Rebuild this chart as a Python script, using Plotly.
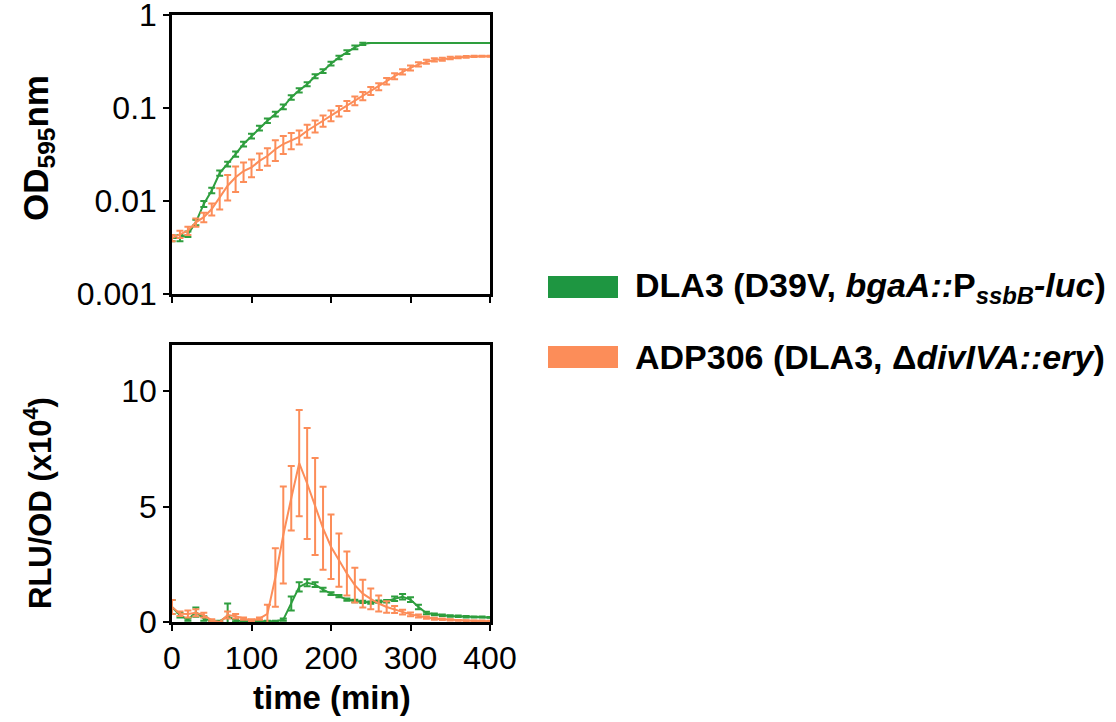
import plotly.graph_objects as go

# ---------------- data ----------------
time_min = [0, 10, 20, 30, 40, 50, 60, 70, 80, 90, 100, 110, 120, 130, 140, 150, 160, 170, 180, 190,
            200, 210, 220, 230, 240, 250, 260, 270, 280, 290, 300, 310, 320, 330, 340, 350, 360, 370,
            380, 390, 400]

od_dla3 = [0.004, 0.004, 0.0044, 0.0059, 0.0093, 0.013, 0.020, 0.025, 0.032, 0.041, 0.050, 0.061,
           0.073, 0.086, 0.103, 0.13, 0.155, 0.18, 0.22, 0.25, 0.30, 0.35, 0.40, 0.45, 0.49, 0.5, 0.5,
           0.5, 0.5, 0.5, 0.5, 0.5, 0.5, 0.5, 0.5, 0.5, 0.5, 0.5, 0.5, 0.5, 0.5]
od_dla3_err = [0.0003, 0.0003, 0.0003, 0.0004, 0.0007, 0.0009, 0.0013, 0.0015, 0.002, 0.0025, 0.003,
               0.0035, 0.004, 0.005, 0.006, 0.007, 0.008, 0.009, 0.011, 0.012, 0.014, 0.016, 0.018,
               0.02, 0.015, 0, 0, 0, 0, 0, 0, 0, 0, 0, 0, 0, 0, 0, 0, 0, 0]

od_adp306 = [0.004, 0.0044, 0.0048, 0.0059, 0.0067, 0.0082, 0.0109, 0.0146, 0.018, 0.021, 0.023,
             0.027, 0.0305, 0.036, 0.041, 0.045, 0.049, 0.057, 0.064, 0.073, 0.083, 0.093, 0.106,
             0.12, 0.135, 0.153, 0.17, 0.195, 0.22, 0.245, 0.27, 0.295, 0.315, 0.33, 0.335, 0.345,
             0.35, 0.355, 0.36, 0.36, 0.36]
od_adp306_err = [0.0003, 0.0004, 0.0005, 0.0006, 0.0008, 0.0012, 0.0028, 0.0045, 0.0055, 0.005,
                 0.005, 0.0055, 0.0065, 0.009, 0.009, 0.009, 0.0085, 0.009, 0.0095, 0.01, 0.011,
                 0.012, 0.013, 0.013, 0.014, 0.015, 0.015, 0.016, 0.016, 0.016, 0.016, 0.016, 0.015,
                 0.014, 0.012, 0.01, 0.008, 0.007, 0.006, 0.005, 0.005]

rlu_dla3 = [0.65, 0.3, 0.1, 0.43, 0.15, 0.05, 0.03, 0.25, 0.07, 0.03, 0.03, 0.03, 0.03, 0.03, 0.1,
            0.8, 1.52, 1.7, 1.62, 1.4, 1.23, 1.12, 0.97, 0.91, 0.87, 0.84, 0.88, 0.9, 1.01, 1.09,
            0.97, 0.65, 0.39, 0.33, 0.29, 0.26, 0.25, 0.23, 0.22, 0.22, 0.2]
rlu_dla3_err = [0.3, 0.1, 0.05, 0.2, 0.1, 0.03, 0.02, 0.55, 0.05, 0.02, 0.02, 0.02, 0.02, 0.02, 0.05,
                0.3, 0.2, 0.15, 0.1, 0.08, 0.06, 0.05, 0.05, 0.05, 0.05, 0.05, 0.05, 0.05, 0.1, 0.12,
                0.1, 0.1, 0.05, 0.04, 0.03, 0.03, 0.03, 0.03, 0.02, 0.02, 0.02]

rlu_adp306 = [0.65, 0.36, 0.35, 0.4, 0.3, 0.07, 0.0, 0.3, 0.25, 0.15, 0.07, 0.15, 0.35, 1.93, 3.77,
              5.36, 6.88, 6.0, 5.0, 4.06, 3.26, 2.68, 2.1, 1.6, 1.23, 1.0, 0.8, 0.65, 0.54, 0.43,
              0.33, 0.26, 0.19, 0.14, 0.12, 0.09, 0.07, 0.06, 0.05, 0.04, 0.03]
rlu_adp306_err = [0.3, 0.1, 0.15, 0.15, 0.1, 0.05, 0.0, 0.15, 0.1, 0.05, 0.05, 0.05, 0.4, 1.27, 2.1,
                  1.4, 2.3, 2.4, 2.1, 1.8, 1.4, 1.15, 0.95, 0.75, 0.6, 0.45, 0.35, 0.25, 0.15, 0.1,
                  0.08, 0.06, 0.05, 0.04, 0.03, 0.03, 0.02, 0.02, 0.02, 0.02, 0.02]

od_ticks = [0.001, 0.01, 0.1, 1]
od_tick_text = ["0.001", "0.01", "0.1", "1"]
rlu_ticks = [0, 5, 10]
time_ticks = [0, 100, 200, 300, 400]

legend_dla3 = "DLA3 (D39V, <i>bgaA::</i>P<sub><i>ssbB</i></sub><i>-luc</i>)"
legend_adp306 = "ADP306 (DLA3, Δ<i>divIVA::ery</i>)"

GREEN = "#2e9e3e"
ORANGE = "#fc8d59"
GREEN_LEG = "#1e9641"
ORANGE_LEG = "#fc8d59"
FONT = "Arial, Liberation Sans, Helvetica, sans-serif"

W, H = 1116, 722

def px_x(p):
    return p / W

def px_y(p):
    return 1 - p / H

fig = go.Figure()

def add(x, y, err, color, xa, ya):
    fig.add_trace(go.Scatter(
        x=x, y=y, mode="lines", xaxis=xa, yaxis=ya,
        line=dict(color=color, width=2),
        error_y=dict(type="data", array=err, visible=True, color=color, thickness=2, width=3.5),
        showlegend=False, hoverinfo="skip", cliponaxis=False))

add(time_min, od_dla3, od_dla3_err, GREEN, "x", "y")
add(time_min, od_adp306, od_adp306_err, ORANGE, "x", "y")
add(time_min, rlu_dla3, rlu_dla3_err, GREEN, "x2", "y2")
add(time_min, rlu_adp306, rlu_adp306_err, ORANGE, "x2", "y2")

axis_common = dict(showline=True, linecolor="black", linewidth=2.5, mirror=True,
                   ticks="outside", ticklen=6, tickwidth=2, tickcolor="black",
                   showgrid=False, zeroline=False, ticklabeloverflow="allow",
                   automargin=False,
                   tickfont=dict(family=FONT, size=32, color="black"))

x_dom = [px_x(172), px_x(490)]
fig.update_layout(
    template="none",
    width=W, height=H,
    margin=dict(l=0, r=0, t=0, b=0, pad=0, autoexpand=False),
    paper_bgcolor="white", plot_bgcolor="white",
    xaxis=dict(domain=x_dom, range=[0, 400], tickvals=time_ticks, showticklabels=False,
               anchor="y", **axis_common),
    yaxis=dict(domain=[px_y(294), px_y(15)], type="log", range=[-3, 0.0005], tickvals=od_ticks,
               ticktext=od_tick_text, anchor="x", **axis_common),
    xaxis2=dict(domain=x_dom, range=[0, 400], tickvals=time_ticks, anchor="y2", **axis_common),
    yaxis2=dict(domain=[px_y(622), px_y(345)], range=[0, 12], tickvals=rlu_ticks, anchor="x2",
                **axis_common),
)

fig.add_annotation(x=px_x(38), y=px_y(148), xref="paper", yref="paper", showarrow=False,
                   text="<b>OD<sub>595</sub>nm</b>", textangle=-90,
                   font=dict(family=FONT, size=35, color="black"),
                   xanchor="center", yanchor="middle")
fig.add_annotation(x=px_x(38), y=px_y(503), xref="paper", yref="paper", showarrow=False,
                   text="<b>RLU/OD (x10<sup>4</sup>)</b>", textangle=-90,
                   font=dict(family=FONT, size=31, color="black"),
                   xanchor="center", yanchor="middle")
fig.add_annotation(x=px_x(332), y=px_y(697), xref="paper", yref="paper", showarrow=False,
                   text="<b>time (min)</b>", font=dict(family=FONT, size=33, color="black"),
                   xanchor="center", yanchor="middle")

# legend
leg_font = dict(family=FONT, size=34, color="black")
for (y0, y1, col, txt, yc) in [(276, 298, GREEN_LEG, legend_dla3, 287),
                               (346, 368, ORANGE_LEG, legend_adp306, 357)]:
    fig.add_shape(type="rect", xref="paper", yref="paper",
                  x0=px_x(548), x1=px_x(618), y0=px_y(y1), y1=px_y(y0),
                  fillcolor=col, line=dict(width=0))
    fig.add_annotation(x=px_x(633), y=px_y(yc), xref="paper", yref="paper", showarrow=False,
                       text="<b>" + txt + "</b>", font=leg_font, xanchor="left", yanchor="middle")

fig.write_html("out.html")
